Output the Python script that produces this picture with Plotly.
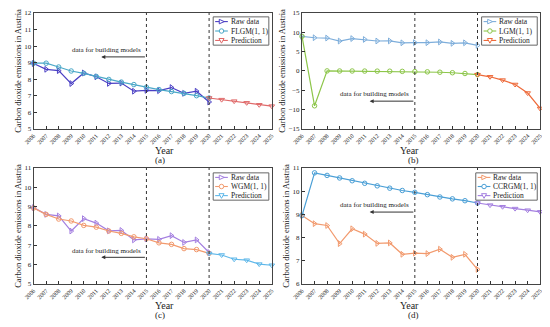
import plotly.graph_objects as go

years = list(range(2006, 2021))
pred_years = list(range(2020, 2026))
all_years = list(range(2006, 2026))

raw_data = [8.95, 8.6, 8.52, 7.74, 8.38, 8.15, 7.75, 7.77, 7.28, 7.33, 7.31, 7.5, 7.15, 7.28, 6.63]

flgm_fit = [8.97, 8.97, 8.74, 8.5, 8.36, 8.17, 7.99, 7.83, 7.68, 7.52, 7.38, 7.26, 7.15, 7.01, 6.87]
flgm_pred = [6.87, 6.77, 6.68, 6.58, 6.46, 6.38]

lgm_fit = [8.95, -9.0, 0.02, 0.0, 0.0, -0.02, -0.04, -0.06, -0.1, -0.15, -0.22, -0.32, -0.45, -0.65, -0.95]
lgm_pred = [-0.95, -1.5, -2.35, -3.5, -5.7, -9.7]

wgm_fit = [8.93, 8.6, 8.36, 8.26, 8.03, 7.94, 7.74, 7.62, 7.44, 7.34, 7.13, 7.05, 6.83, 6.78, 6.58]
wgm_pred = [6.58, 6.5, 6.28, 6.23, 6.03, 5.97]

ccrgm_fit = [8.95, 10.79, 10.68, 10.57, 10.45, 10.34, 10.23, 10.13, 10.03, 9.95, 9.85, 9.75, 9.67, 9.59, 9.49]
ccrgm_pred = [9.49, 9.4, 9.33, 9.25, 9.18, 9.11]

panels = [
    dict(label="(a)", model="FLGM(1, 1)", fit=flgm_fit, pred=flgm_pred,
         colors=("#4a3fc4", "#4aa8c8", "#e06a6a"), yrange=[5, 12], dtick=1,
         text_y=9.78, arrow_y=9.35, leg_box=(208, 13, 265, 42)),
    dict(label="(b)", model="LGM(1, 1)", fit=lgm_fit, pred=lgm_pred,
         colors=("#7eaedb", "#8dc64a", "#ee6a3a"), yrange=[-15, 15], dtick=5,
         text_y=-6.0, arrow_y=-7.8, leg_box=(483, 13, 540, 42)),
    dict(label="(c)", model="WGM(1, 1)", fit=wgm_fit, pred=wgm_pred,
         colors=("#a47fe0", "#f29a6e", "#5fb8ea"), yrange=[5, 11], dtick=1,
         text_y=6.71, arrow_y=6.38, leg_box=(208, 173, 265, 201)),
    dict(label="(d)", model="CCRGM(1, 1)", fit=ccrgm_fit, pred=ccrgm_pred,
         colors=("#f29a6e", "#4a9fd6", "#a47fe0"), yrange=[6, 11], dtick=1,
         text_y=9.42, arrow_y=9.1, leg_box=(477, 173, 540, 201)),
]

# page offset from default body margin of the html page
OFF = 8
W, H = 550 - OFF, 327 - OFF
xdoms = [(24, 268), (299, 543), (24, 268), (299, 543)]
ydoms = [(9, 128), (9, 128), (168, 287), (168, 287)]


def px(x):
    return (x - OFF) / W


def py(y):
    return 1 - (y - OFF) / H


FONT = "Liberation Serif, Times New Roman, serif"
fig = go.Figure()
shapes = []
annotations = []


def marker_shape(kind, cx, cy, color):
    r = 2.3
    if kind == "circle":
        return dict(type="circle", xref="paper", yref="paper",
                    x0=px(cx - r), x1=px(cx + r), y0=py(cy + r), y1=py(cy - r),
                    line=dict(color=color, width=1), fillcolor="white")
    if kind == "tri-right":
        pts = [(cx - r, cy - r), (cx + r + 0.5, cy), (cx - r, cy + r)]
    else:
        pts = [(cx - r - 0.3, cy - r + 0.3), (cx + r + 0.3, cy - r + 0.3), (cx, cy + r + 0.5)]
    path = "M " + " L ".join(f"{px(a):.5f},{py(b):.5f}" for a, b in pts) + " Z"
    return dict(type="path", xref="paper", yref="paper", path=path,
                line=dict(color=color, width=1), fillcolor="white")


for i, p in enumerate(panels):
    n = i + 1
    xa = "x" if n == 1 else f"x{n}"
    ya = "y" if n == 1 else f"y{n}"
    c_raw, c_fit, c_pred = p["colors"]
    fig.add_trace(go.Scatter(x=years, y=raw_data, mode="lines+markers", name="Raw data",
                             line=dict(color=c_raw, width=1.2),
                             marker=dict(symbol="triangle-right-open", size=5, color=c_raw, line=dict(width=1)),
                             xaxis=xa, yaxis=ya, showlegend=False, cliponaxis=False))
    fig.add_trace(go.Scatter(x=years, y=p["fit"], mode="lines+markers", name=p["model"],
                             line=dict(color=c_fit, width=1.2),
                             marker=dict(symbol="circle-open", size=4.5, color=c_fit, line=dict(width=1)),
                             xaxis=xa, yaxis=ya, showlegend=False, cliponaxis=False))
    fig.add_trace(go.Scatter(x=pred_years, y=p["pred"], mode="lines+markers", name="Prediction",
                             line=dict(color=c_pred, width=1.2),
                             marker=dict(symbol="triangle-down-open", size=5, color=c_pred, line=dict(width=1)),
                             xaxis=xa, yaxis=ya, showlegend=False, cliponaxis=False))

    x0, x1 = xdoms[i]
    y0, y1 = ydoms[i]
    axkey = "xaxis" if n == 1 else f"xaxis{n}"
    aykey = "yaxis" if n == 1 else f"yaxis{n}"
    fig.update_layout(**{
        axkey: dict(domain=[px(x0), px(x1)], anchor=ya, range=[2006, 2025],
                    tickmode="array", tickvals=all_years, ticktext=[str(y) for y in all_years],
                    tickangle=-45, tickfont=dict(size=6, family=FONT, color="#222"),
                    ticks="inside", ticklen=3, tickcolor="#333",
                    showline=True, linecolor="#444", linewidth=1, mirror=True,
                    showgrid=False, zeroline=False),
        aykey: dict(domain=[py(y1), py(y0)], anchor=xa, range=p["yrange"], dtick=p["dtick"],
                    tickfont=dict(size=7, family=FONT, color="#222"),
                    ticks="inside", ticklen=3, tickcolor="#333",
                    showline=True, linecolor="#444", linewidth=1, mirror=True,
                    showgrid=False, zeroline=False,
                    title=dict(text="Carbon dioxide emissions in Austria",
                               font=dict(size=8.5, family=FONT, color="#222"), standoff=1)),
    })

    for xv in (2015, 2020):
        shapes.append(dict(type="line", xref=xa, yref=f"{ya} domain", x0=xv, x1=xv, y0=0, y1=1,
                           line=dict(color="#333", width=1, dash="dot")))
    annotations.append(dict(x=2011.8, y=p["text_y"], xref=xa, yref=ya, text="data for building models",
                            showarrow=False, font=dict(size=7, family=FONT, color="#222")))
    annotations.append(dict(x=2011.4, y=p["arrow_y"], xref=xa, yref=ya, ax=2015, ay=p["arrow_y"],
                            axref=xa, ayref=ya, text="", showarrow=True, arrowhead=2,
                            arrowsize=0.8, arrowwidth=1, arrowcolor="#333"))
    cx = px((x0 + x1) / 2)
    annotations.append(dict(x=cx, y=py(y1 + 22), xref="paper", yref="paper", text="Year",
                            yanchor="middle", showarrow=False,
                            font=dict(size=10, family=FONT, color="#222")))
    annotations.append(dict(x=cx, y=py(y1 + 32), xref="paper", yref="paper", text=p["label"],
                            yanchor="middle", showarrow=False,
                            font=dict(size=9, family=FONT, color="#222")))

    # compact legend box
    bx0, by0, bx1, by1 = p["leg_box"]
    shapes.append(dict(type="rect", xref="paper", yref="paper",
                       x0=px(bx0), x1=px(bx1), y0=py(by1), y1=py(by0),
                       line=dict(color="#666", width=1), fillcolor="white", layer="above"))
    names = ["Raw data", p["model"], "Prediction"]
    kinds = ["tri-right", "circle", "tri-down"]
    cols = [c_raw, c_fit, c_pred]
    row_h = (by1 - by0) / 3
    for k in range(3):
        ry = by0 + row_h * (k + 0.5)
        lx0, lx1 = bx0 + 2, bx0 + 15
        shapes.append(dict(type="line", xref="paper", yref="paper",
                           x0=px(lx0), x1=px(lx1), y0=py(ry), y1=py(ry),
                           line=dict(color=cols[k], width=1.1), layer="above"))
        s = marker_shape(kinds[k], (lx0 + lx1) / 2, ry, cols[k])
        s["layer"] = "above"
        shapes.append(s)
        annotations.append(dict(x=px(lx1 + 1), y=py(ry), xref="paper", yref="paper",
                                text=names[k], xanchor="left", yanchor="middle", showarrow=False,
                                font=dict(size=7.5, family=FONT, color="#222")))

fig.update_layout(width=W, height=H, margin=dict(l=0, r=0, t=0, b=0),
                  paper_bgcolor="white", plot_bgcolor="white",
                  shapes=shapes, annotations=annotations, showlegend=False,
                  font=dict(family=FONT))

fig.write_html("out.html")
